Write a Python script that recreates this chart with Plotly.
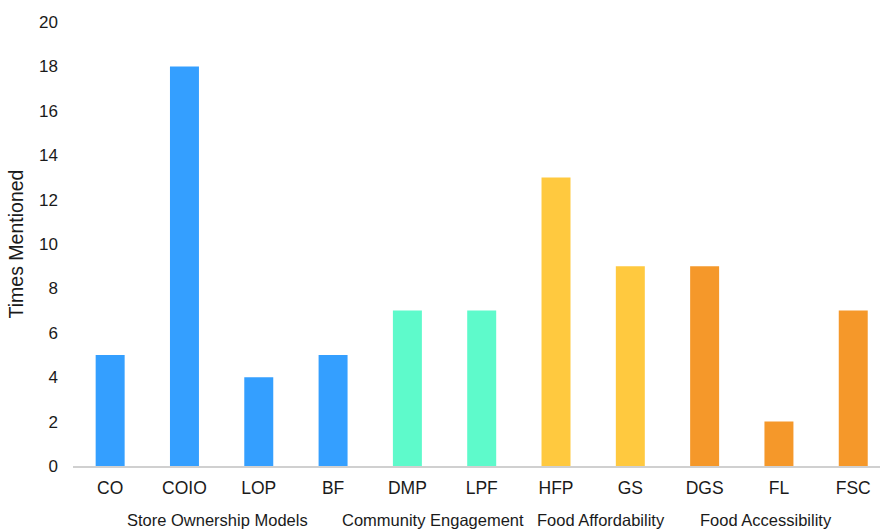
import plotly.graph_objects as go

categories = ["CO", "COIO", "LOP", "BF", "DMP", "LPF", "HFP", "GS", "DGS", "FL", "FSC"]
values = [5, 18, 4, 5, 7, 7, 13, 9, 9, 2, 7]
groups = ["Store Ownership Models", "Store Ownership Models", "Store Ownership Models", "Store Ownership Models",
          "Community Engagement", "Community Engagement",
          "Food Affordability", "Food Affordability",
          "Food Accessibility", "Food Accessibility", "Food Accessibility"]
group_names = ["Store Ownership Models", "Community Engagement", "Food Affordability", "Food Accessibility"]
group_label_pos = [1.45, 4.35, 6.61, 8.82]
group_colors = {"Store Ownership Models": "#349FFF",
                "Community Engagement": "#5EFACB",
                "Food Affordability": "#FFC93F",
                "Food Accessibility": "#F5982A"}
y_ticks = [0, 2, 4, 6, 8, 10, 12, 14, 16, 18, 20]

xs = list(range(len(categories)))
fig = go.Figure(go.Bar(
    x=xs, y=values, width=0.39,
    marker=dict(color=[group_colors[g] for g in groups], line=dict(width=0)),
))

for name, pos in zip(group_names, group_label_pos):
    fig.add_annotation(x=pos, xref="x", y=0, yref="paper", yanchor="middle", yshift=-54,
                       text=name, showarrow=False,
                       font=dict(family="Liberation Sans, Arial", size=16.5, color="#1a1a1a"))

fig.update_layout(
    width=880, height=529,
    margin=dict(l=73, r=0, t=22, b=63),
    plot_bgcolor="white", paper_bgcolor="white",
    showlegend=False,
    font=dict(family="Liberation Sans, Arial", color="#1a1a1a"),
    xaxis=dict(range=[-0.5, 10.36], tickvals=xs, ticktext=categories,
               showgrid=False, zeroline=False, showline=True, linecolor="#d0d0d0", linewidth=1.5,
               ticks="", ticklabelstandoff=5, tickfont=dict(size=17.5)),
    yaxis=dict(range=[0, 20], tickvals=y_ticks, showgrid=False, zeroline=False, showline=False,
               ticks="", ticklabelstandoff=14, tickfont=dict(size=17),
               title=dict(text="Times Mentioned", font=dict(size=19.5), standoff=10)),
)

fig.write_html("out.html")
